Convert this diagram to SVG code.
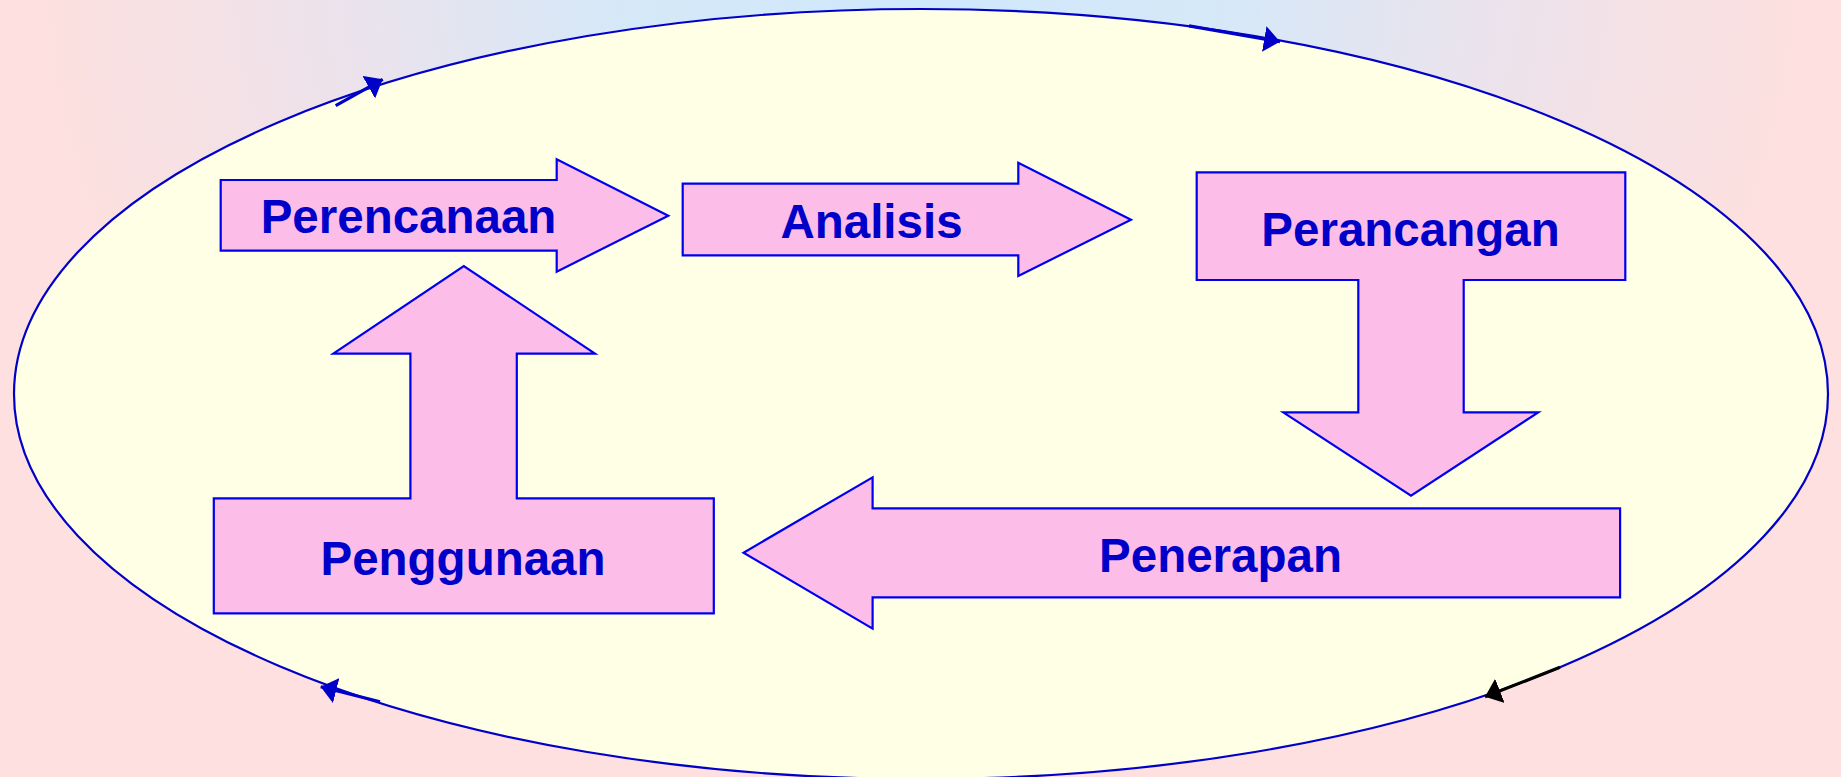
<svg xmlns="http://www.w3.org/2000/svg" width="1841" height="777" viewBox="0 0 1841 777">
<style>
.shape{fill:#fcbde9;stroke:#0000f0;stroke-width:2.2;stroke-linejoin:miter}
.lbl{font-family:"Liberation Sans",Arial,sans-serif;font-weight:bold;font-size:47.5px;fill:#0000c8;text-anchor:middle}
.seg{fill:none;stroke:#0000c8;stroke-width:3.2}
.seg.black{stroke:#000000}
</style>
<defs>
<radialGradient id="bg" gradientUnits="userSpaceOnUse" cx="921" cy="-40" r="880" gradientTransform="translate(921,-40) scale(1,0.9) translate(-921,40)">
<stop offset="0" stop-color="#cfe8fc"/>
<stop offset="0.35" stop-color="#d6e8f8"/>
<stop offset="0.7" stop-color="#eee2ea"/>
<stop offset="1" stop-color="#fde0df"/>
</radialGradient>
<marker id="hb" markerUnits="userSpaceOnUse" viewBox="0 0 16 26" refX="16" refY="13" markerWidth="16" markerHeight="26" orient="auto">
<path d="M0,0 L16,13 L0,26 Z" fill="#0000c8"/>
</marker>
<marker id="hk" markerUnits="userSpaceOnUse" viewBox="0 0 16 26" refX="16" refY="13" markerWidth="16" markerHeight="26" orient="auto">
<path d="M0,0 L16,13 L0,26 Z" fill="#000000"/>
</marker>
</defs>
<rect x="0" y="0" width="1841" height="777" fill="url(#bg)"/>
<ellipse id="cycle" cx="921" cy="394" rx="907" ry="385" fill="#ffffe5" stroke="#0000c8" stroke-width="2.2"/>
<g id="connectors">
<path class="seg" d="M335.7,105.7 L382.7,79.3" marker-end="url(#hb)"/>
<path class="seg" d="M1189,25.8 L1280,41.7" marker-end="url(#hb)"/>
<path class="seg" d="M380,701.7 L320.7,686.7" marker-end="url(#hb)"/>
<path class="seg black" d="M1560,667.3 L1485,696.7" marker-end="url(#hk)"/>
</g>
<g id="perencanaan">
<polygon class="shape" points="220.7,180 556.7,180 556.7,159.3 668.3,215.7 556.7,271.7 556.7,250.7 220.7,250.7"/>
<text class="lbl" x="408.5" y="233">Perencanaan</text>
</g>
<g id="analisis">
<polygon class="shape" points="682.7,183.7 1018.3,183.7 1018.3,162.7 1131,219.7 1018.3,276 1018.3,255.3 682.7,255.3"/>
<text class="lbl" x="871.5" y="238.3">Analisis</text>
</g>
<g id="perancangan">
<polygon class="shape" points="1196.7,172.3 1625.3,172.3 1625.3,280 1463.7,280 1463.7,412.3 1538.3,412.3 1411,495.7 1283.3,412.3 1358.3,412.3 1358.3,280 1196.7,280"/>
<text class="lbl" x="1410.5" y="245.7">Perancangan</text>
</g>
<g id="penerapan">
<polygon class="shape" points="1620.1,508.3 872.6,508.3 872.6,477.3 743.5,552.7 872.6,628.7 872.6,597.3 1620.1,597.3"/>
<text class="lbl" x="1220.5" y="571.7">Penerapan</text>
</g>
<g id="penggunaan">
<polygon class="shape" points="213.8,498.3 410.4,498.3 410.4,353.7 333.3,353.7 463.8,266 595,353.7 516.8,353.7 516.8,498.3 713.8,498.3 713.8,613.3 213.8,613.3"/>
<text class="lbl" x="463" y="575">Penggunaan</text>
</g>
</svg>
